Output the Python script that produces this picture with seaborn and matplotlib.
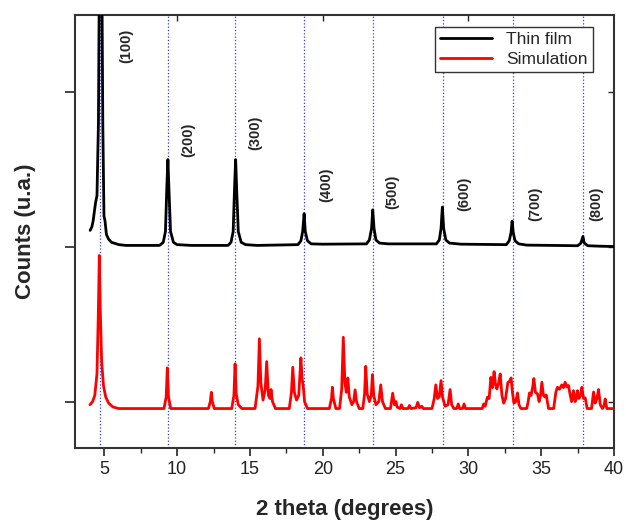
import numpy as np
import pandas as pd
import matplotlib
matplotlib.use("Agg")
import matplotlib.pyplot as plt
import seaborn as sns

# Simulated pattern (2theta, counts)
sim_points = [
    (4.02, -0.02), (4.2, 0.0), (4.35, 0.04), (4.5, 0.18), (4.6, 0.6), (4.66, 0.945), (4.72, 0.62),
    (4.82, 0.26), (4.95, 0.1), (5.1, 0.03), (5.3, -0.01), (5.6, -0.035), (6.0, -0.045),
    (9.1, -0.045), (9.25, 0.03), (9.33, 0.218), (9.41, 0.03), (9.56, -0.045),
    (12.15, -0.045), (12.28, 0.0), (12.35, 0.06), (12.42, 0.0), (12.55, -0.045),
    (13.75, -0.045), (13.9, 0.04), (13.98, 0.244), (14.06, 0.05), (14.2, -0.02), (14.45, -0.045),
    (15.35, -0.045), (15.55, 0.1), (15.65, 0.406), (15.75, 0.12), (15.9, 0.01), (16.05, 0.08),
    (16.15, 0.259), (16.27, 0.04), (16.38, 0.02), (16.45, 0.078), (16.55, 0.0), (16.75, -0.045),
    (17.7, -0.045), (17.85, 0.06), (17.94, 0.222), (18.05, 0.06), (18.2, 0.01), (18.35, 0.04),
    (18.5, 0.283), (18.58, 0.15), (18.66, 0.1), (18.75, 0.0), (18.95, -0.045),
    (20.45, -0.045), (20.6, 0.02), (20.66, 0.093), (20.73, 0.02), (20.9, -0.045),
    (21.15, -0.045), (21.3, 0.08), (21.41, 0.416), (21.52, 0.12), (21.62, 0.06), (21.72, 0.153),
    (21.82, 0.03), (22.0, -0.02), (22.12, 0.0), (22.22, 0.076), (22.32, 0.0), (22.5, -0.045),
    (22.75, -0.045), (22.87, 0.05), (22.95, 0.228), (23.05, 0.05), (23.2, 0.0), (23.33, 0.04),
    (23.41, 0.175), (23.5, 0.04), (23.65, -0.02), (23.85, 0.0), (23.98, 0.108), (24.1, 0.0), (24.3, -0.045),
    (24.65, -0.045), (24.8, 0.054), (24.92, -0.02), (25.03, 0.0), (25.1, -0.035), (25.3, -0.045),
    (25.4, -0.02), (25.5, -0.045), (25.85, -0.045), (25.95, -0.025), (26.05, -0.045), (26.4, -0.04),
    (26.52, -0.005), (26.64, -0.04), (26.8, -0.03), (26.9, -0.045),
    (27.5, -0.045), (27.65, 0.02), (27.76, 0.108), (27.88, 0.02), (28.0, 0.03), (28.12, 0.136),
    (28.22, 0.03), (28.4, -0.03), (28.6, -0.02), (28.74, 0.078), (28.85, -0.02), (29.0, -0.045),
    (29.2, -0.045), (29.3, -0.015), (29.4, -0.045), (29.6, -0.045), (29.7, -0.015), (29.8, -0.045),
    (30.95, -0.045), (31.05, -0.015), (31.15, -0.03), (31.3, 0.028), (31.42, 0.02), (31.54, 0.157),
    (31.65, 0.09), (31.76, 0.194), (31.86, 0.11), (31.95, 0.082), (32.07, 0.12), (32.18, 0.179),
    (32.3, 0.04), (32.42, -0.01), (32.55, 0.02), (32.71, 0.125), (32.82, 0.13), (32.93, 0.153),
    (33.02, 0.06), (33.12, -0.01), (33.25, 0.0), (33.37, 0.056), (33.47, -0.02), (33.6, -0.045),
    (34.0, -0.045), (34.1, 0.0), (34.19, 0.056), (34.3, 0.04), (34.42, 0.1), (34.49, 0.149),
    (34.6, 0.06), (34.74, 0.05), (34.85, 0.0), (34.95, 0.04), (35.04, 0.125), (35.15, 0.04),
    (35.25, 0.03), (35.34, 0.043), (35.5, -0.045),
    (35.85, -0.045), (36.0, 0.06), (36.11, 0.093), (36.25, 0.08), (36.41, 0.108), (36.52, 0.09),
    (36.64, 0.125), (36.75, 0.095), (36.87, 0.104), (36.97, 0.05), (37.08, 0.0), (37.21, 0.071),
    (37.32, 0.0), (37.4, 0.02), (37.49, 0.071), (37.58, 0.02), (37.7, 0.04), (37.79, 0.093),
    (37.9, 0.02), (38.02, 0.023), (38.15, -0.045),
    (38.45, -0.045), (38.59, 0.062), (38.7, -0.01), (38.82, 0.02), (38.93, 0.078), (39.05, -0.02),
    (39.2, -0.045), (39.3, -0.03), (39.39, 0.017), (39.5, -0.045), (39.96, -0.045),
]

# Thin film pattern (2theta, counts)
film_points = [
    (4.03, 1.107), (4.15, 1.13), (4.24, 1.17), (4.35, 1.25), (4.41, 1.29), (4.5, 1.33), (4.6, 1.8),
    (4.68, 3.0), (4.82, 3.0), (4.9, 1.8), (4.98, 1.2), (5.05, 1.17), (5.15, 1.08), (5.3, 1.05),
    (5.5, 1.03), (6.0, 1.015), (6.5, 1.01), (8.8, 1.01),
    (9.05, 1.03), (9.2, 1.1), (9.3, 1.4), (9.37, 1.565), (9.45, 1.35), (9.55, 1.1), (9.75, 1.03),
    (10.0, 1.015), (11.0, 1.01), (13.5, 1.01),
    (13.7, 1.03), (13.85, 1.1), (13.95, 1.4), (14.02, 1.565), (14.1, 1.35), (14.2, 1.1), (14.4, 1.03),
    (14.7, 1.015), (15.5, 1.01), (18.3, 1.015),
    (18.5, 1.04), (18.62, 1.1), (18.72, 1.215), (18.8, 1.1), (18.95, 1.04), (19.2, 1.02),
    (20.0, 1.018), (23.0, 1.02),
    (23.2, 1.045), (23.35, 1.12), (23.43, 1.24), (23.52, 1.12), (23.65, 1.045), (23.9, 1.025),
    (24.5, 1.02), (27.8, 1.02),
    (28.0, 1.045), (28.12, 1.12), (28.21, 1.258), (28.3, 1.12), (28.45, 1.045), (28.7, 1.025),
    (29.5, 1.018), (32.6, 1.015),
    (32.8, 1.04), (32.92, 1.09), (33.0, 1.167), (33.08, 1.09), (33.2, 1.04), (33.45, 1.02),
    (34.0, 1.012), (37.5, 1.008),
    (37.72, 1.025), (37.86, 1.068), (37.95, 1.025), (38.2, 1.008), (39.0, 1.005), (40.0, 1.003),
]

# (h00) reflections
hkl_pos = [4.70, 9.35, 13.98, 18.72, 23.45, 28.24, 33.05, 37.86]
hkl_labels = ["(100)", "(200)", "(300)", "(400)", "(500)", "(600)", "(700)", "(800)"]
label_x = [6.54, 10.77, 15.35, 20.27, 24.74, 29.7, 34.58, 38.77]
label_y = [2.30, 1.69, 1.74, 1.40, 1.355, 1.345, 1.28, 1.28]

sim = pd.DataFrame(sim_points, columns=["two_theta", "counts"])
film = pd.DataFrame(film_points, columns=["two_theta", "counts"])

sns.set_theme(style="ticks")
plt.rcParams['font.family'] = ['Liberation Sans', 'DejaVu Sans']

fig = plt.figure(figsize=(6.26, 5.25), dpi=100)
ax = fig.add_axes([0.12, 0.1467, 0.861, 0.8247])

for p in hkl_pos:
    ax.axvline(p, color="blue", linestyle=":", linewidth=0.9, alpha=0.8, zorder=1)

sns.lineplot(data=film, x="two_theta", y="counts", ax=ax, color="black", linewidth=2,
             sort=False, estimator=None, label="Thin film", zorder=3)
sns.lineplot(data=sim, x="two_theta", y="counts", ax=ax, color="red", linewidth=2,
             sort=False, estimator=None, label="Simulation", zorder=3)

for lx, ly, t in zip(label_x, label_y, hkl_labels):
    ax.text(lx, ly, t, rotation=90, ha="center", va="center", fontsize=10.5, fontweight="bold")

ax.set_xlim(3, 40)
ax.set_ylim(-0.3, 2.5)
ax.set_xticks([5, 10, 15, 20, 25, 30, 35, 40])
ax.set_xticks(np.arange(5, 40, 2.5), minor=True)
ax.set_yticks([0, 1, 2])
ax.set_yticklabels([])
ax.tick_params(axis="x", which="major", direction="out", length=6, width=1.2, labelsize=13, colors="#222222")
ax.tick_params(axis="x", which="minor", direction="out", length=3.5, width=1.0)
ax.tick_params(axis="y", which="major", direction="out", length=7, width=1.2)
for s in ax.spines.values():
    s.set_linewidth(1.5)
    s.set_color("#333333")

# inward ticks on the top and right frame
top = ax.secondary_xaxis("top")
top.set_xticks([10, 20, 30])
top.tick_params(direction="in", length=4, width=1.0, labeltop=False)
top.spines["top"].set_visible(False)
right = ax.secondary_yaxis("right")
right.set_yticks([0, 1, 2])
right.tick_params(direction="in", length=4, width=1.0, labelright=False)
right.spines["right"].set_visible(False)

ax.set_xlabel("2 theta (degrees)", fontsize=16, fontweight="bold", labelpad=15)
ax.set_ylabel("Counts (u.a.)", fontsize=16, fontweight="bold", labelpad=18)

leg = ax.legend(loc="upper right", bbox_to_anchor=(0.961, 0.972), borderaxespad=0,
                fontsize=12.5, fancybox=False, framealpha=1, handlelength=3.0,
                borderpad=0.3, labelspacing=0.25)
leg.get_frame().set_edgecolor("#333333")
leg.get_frame().set_linewidth(1.0)

fig.savefig("out.png", dpi=100)
